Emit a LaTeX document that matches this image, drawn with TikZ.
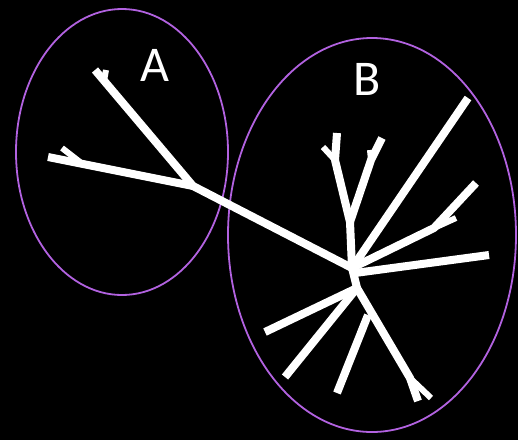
\documentclass[tikz,border=0pt]{standalone}
\usepackage{fontspec}
\setmainfont{Carlito}
\definecolor{ringpurple}{HTML}{B262E0}
\begin{document}
\begin{tikzpicture}[x=1pt,y=-1pt,
  branch/.style={draw=white,line width=8pt,line cap=butt,line join=round},
  twig/.style={draw=white,line width=6pt,line cap=butt},
  ring/.style={draw=ringpurple,line width=1.8pt},
  lbl/.style={text=white,font=\fontsize{50}{50}\selectfont,inner sep=0pt}]
\fill[black] (0,0) rectangle (518,440);
\useasboundingbox (0,0) rectangle (518,440);
% ellipses
\draw[ring] (122,152) ellipse [x radius=106, y radius=143];
\draw[ring] (372,235) ellipse [x radius=144, y radius=197];
\node[lbl] (la) at (155,65) {A};
\node[lbl] (lb) at (367,79) {B};
% tree coordinates
\coordinate (a0) at (193,186);
\coordinate (a1) at (95,70);
\coordinate (a1t) at (106,70);
\coordinate (a1j) at (104,81);
\coordinate (a2) at (48,157);
\coordinate (a2j) at (80,162);
\coordinate (a2t) at (62,148);
\coordinate (b0) at (352,268);
\coordinate (b1) at (357,288);
\coordinate (bf) at (350,222);
\coordinate (bl) at (335,160);
\coordinate (blt) at (337,133);
\coordinate (blw) at (323,147);
\coordinate (br) at (371,160);
\coordinate (brt) at (382,138);
\coordinate (brw) at (370,150);
\coordinate (bu) at (468,98);
\coordinate (bj) at (434,228);
\coordinate (bjt) at (476,183);
\coordinate (bjw) at (456,218);
\coordinate (bh) at (489,255);
\coordinate (bhs) at (355,273);
\coordinate (c1) at (265,332);
\coordinate (c2) at (285,377);
\coordinate (cm) at (368,315);
\coordinate (c3) at (337,393);
\coordinate (cj) at (410,378);
\coordinate (c4) at (418,401);
\coordinate (c5) at (431,398);
% A part
\draw[branch] (a1) -- (a0) -- (b0);
\draw[branch] (a2) -- (a0);
\draw[twig] (a1j) -- (a1t);
\draw[twig] (a2j) -- (a2t);
% B upper
\draw[branch] (b0) -- (bf) -- (bl) -- (blt);
\draw[twig] (bl) -- (blw);
\draw[branch] (bf) -- (br) -- (brt);
\draw[twig] (br) -- (brw);
\draw[branch] (b0) -- (bu);
\draw[branch] (b0) -- (bj) -- (bjt);
\draw[twig] (bj) -- (bjw);
\draw[branch] (bhs) -- (bh);
% B lower
\draw[branch] (b0) -- (b1) -- (c1);
\draw[branch] (b1) -- (c2);
\draw[branch] (b1) -- (cj) -- (c4);
\draw[twig] (cj) -- (c5);
\draw[branch] (cm) -- (c3);
\end{tikzpicture}
\end{document}
